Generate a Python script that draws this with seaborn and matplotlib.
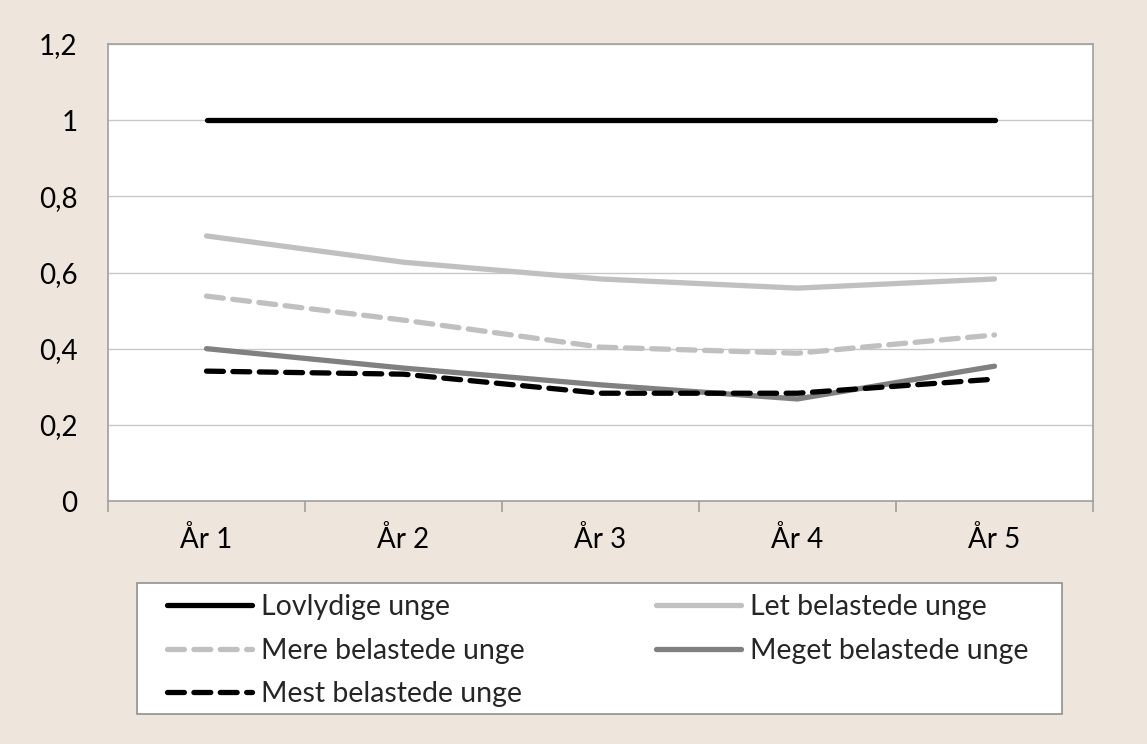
import pandas as pd
import seaborn as sns
import matplotlib.pyplot as plt
from matplotlib.patches import Rectangle
from matplotlib.ticker import FuncFormatter, FixedLocator

# data
years = ["År 1", "År 2", "År 3", "År 4", "År 5"]
lovlydige = [1.0, 1.0, 1.0, 1.0, 1.0]
let_bel = [0.696, 0.627, 0.583, 0.559, 0.583]
mere_bel = [0.538, 0.475, 0.404, 0.388, 0.436]
meget_bel = [0.40, 0.349, 0.305, 0.268, 0.354]
mest_bel = [0.341, 0.333, 0.283, 0.283, 0.32]

series = {
    "Lovlydige unge": lovlydige,
    "Let belastede unge": let_bel,
    "Mere belastede unge": mere_bel,
    "Meget belastede unge": meget_bel,
    "Mest belastede unge": mest_bel,
}
styles = {
    "Lovlydige unge": ("#000000", "-"),
    "Let belastede unge": ("#c0c0c0", "-"),
    "Mere belastede unge": ("#c0c0c0", (0, (3.2, 1.8))),
    "Meget belastede unge": ("#808080", "-"),
    "Mest belastede unge": ("#000000", (0, (3.2, 1.8))),
}

sns.set_theme(style="white")
plt.rcParams["font.family"] = ["Lato", "DejaVu Sans"]

bg = "#eee5dc"
fig = plt.figure(figsize=(11.47, 7.44), dpi=100, facecolor=bg)
W, H = 1147, 744
ax = fig.add_axes([108 / W, 1 - 501 / H, (1093 - 108) / W, (501 - 44) / H])
ax.set_facecolor("white")

handles = {}
for name, vals in series.items():
    col, ls = styles[name]
    df = pd.DataFrame({"year": years, "value": vals})
    sns.lineplot(data=df, x="year", y="value", ax=ax, color=col, linewidth=3.8,
                 label=name, legend=False)
    line = ax.get_lines()[-1]
    line.set_linestyle(ls)
    line.set_dash_capstyle("round")
    line.set_solid_capstyle("round")
    handles[name] = line

ax.set_xlim(-0.5, 4.5)
ax.set_ylim(0, 1.2)
ax.set_yticks([0, 0.2, 0.4, 0.6, 0.8, 1.0, 1.2])
ax.yaxis.set_major_formatter(FuncFormatter(lambda v, p: f"{v:g}".replace(".", ",")))
ax.grid(axis="y", color="#c8c8c8", linewidth=1)
ax.set_axisbelow(True)
ax.set_xlabel("")
ax.set_ylabel("")

for s in ["left", "bottom", "top", "right"]:
    ax.spines[s].set_color("#a0a0a0")
    ax.spines[s].set_linewidth(1.2)

ax.xaxis.set_minor_locator(FixedLocator([-0.5, 0.5, 1.5, 2.5, 3.5, 4.5]))
ax.tick_params(axis="x", which="major", length=0, pad=18, labelsize=20, colors="#000000")
ax.tick_params(axis="x", which="minor", length=8, width=1.2, color="#a0a0a0", bottom=True)
ax.tick_params(axis="y", length=0, pad=22, labelsize=20, colors="#000000")

# legend box drawn separately so its size matches the reference
fig.patches.append(Rectangle((137 / W, 1 - 714 / H), (1062 - 137) / W, (714 - 583) / H,
                             transform=fig.transFigure, facecolor="white",
                             edgecolor="#909090", linewidth=1.2, zorder=0))

order = ["Lovlydige unge", "Mere belastede unge", "Mest belastede unge",
         "Let belastede unge", "Meget belastede unge"]
leg = fig.legend([handles[n] for n in order], order, ncol=2,
                 loc="upper left", bbox_to_anchor=(167 / W, 1 - 594 / H),
                 fontsize=20.5, frameon=False,
                 handlelength=3.0, handletextpad=0.3, labelspacing=0.62,
                 columnspacing=4.6, borderaxespad=0, borderpad=0)

fig.savefig("out.png", dpi=100, facecolor=bg)
